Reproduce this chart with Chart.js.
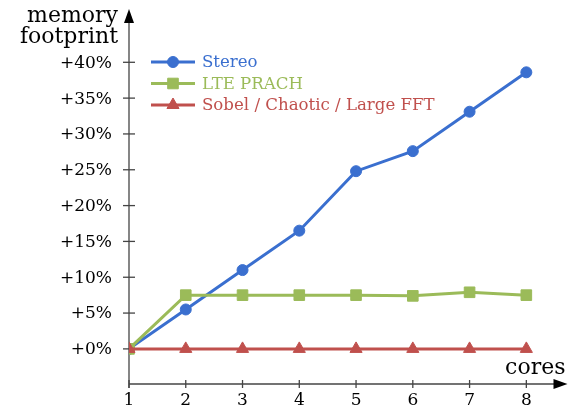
<!DOCTYPE html>
<html>
<head>
<meta charset="utf-8">
<script src="https://cdn.jsdelivr.net/npm/chart.js@4"></script>
<style>
  html, body { margin: 0; padding: 0; background: #fff; }
  #wrap { width: 574px; height: 414px; }
</style>
</head>
<body>
<div id="wrap"><canvas id="memChart" width="574" height="414"></canvas></div>
<script>
// cores on the x axis
const cores = [1, 2, 3, 4, 5, 6, 7, 8];
// memory footprint increase in %
const stereo = [0, 5.5, 11.0, 16.5, 24.8, 27.6, 33.1, 38.6];
const ltePrach = [0, 7.5, 7.5, 7.5, 7.5, 7.4, 7.9, 7.5];
const sobel = [0, 0, 0, 0, 0, 0, 0, 0];
// y tick labels
const yTicks = [0, 5, 10, 15, 20, 25, 30, 35, 40];

const FONT = '"DejaVu Serif", "Liberation Serif", serif';
const seriesNames = ['Stereo', 'LTE PRACH', 'Sobel / Chaotic / Large FFT'];
const colors = ['#3a6fcf', '#9bbb59', '#c0504d'];
const markers = ['circle', 'rect', 'triangle'];
const radii = [5.5, 7.5, 7];

function toPoints(arr) {
  return cores.map((c, i) => ({ x: c, y: arr[i] }));
}

// draws the axes with arrows, ticks, labels and the legend
const axesPlugin = {
  id: 'axesPlugin',
  beforeDatasetsDraw(chart) {
    const ctx = chart.ctx;
    const xs = chart.scales.x;
    const ys = chart.scales.y;
    const x0 = xs.getPixelForValue(1);
    const yBottom = chart.chartArea.bottom;
    const xRight = chart.chartArea.right;
    const yTop = chart.chartArea.top;

    ctx.save();
    ctx.strokeStyle = '#444';
    ctx.fillStyle = '#000';
    ctx.lineWidth = 1.3;
    // y axis
    ctx.beginPath();
    ctx.moveTo(x0, yBottom + 4);
    ctx.lineTo(x0, yTop + 6);
    ctx.stroke();
    // x axis
    ctx.beginPath();
    ctx.moveTo(x0, yBottom);
    ctx.lineTo(xRight - 6, yBottom);
    ctx.stroke();
    // arrows
    ctx.beginPath();
    ctx.moveTo(x0, yTop - 6);
    ctx.lineTo(x0 - 5, yTop + 8);
    ctx.lineTo(x0 + 5, yTop + 8);
    ctx.closePath();
    ctx.fill();
    ctx.beginPath();
    ctx.moveTo(xRight + 2, yBottom);
    ctx.lineTo(xRight - 12, yBottom - 5);
    ctx.lineTo(xRight - 12, yBottom + 5);
    ctx.closePath();
    ctx.fill();

    // y ticks
    ctx.font = '17px ' + FONT;
    ctx.textAlign = 'right';
    ctx.textBaseline = 'middle';
    for (const t of yTicks) {
      const py = ys.getPixelForValue(t);
      ctx.beginPath();
      ctx.moveTo(x0 - 6, py);
      ctx.lineTo(x0 + 6, py);
      ctx.stroke();
      ctx.fillText('+' + t + '%', x0 - 17, py + 1);
    }
    // x ticks
    ctx.textAlign = 'center';
    ctx.textBaseline = 'middle';
    for (const c of cores) {
      const px = xs.getPixelForValue(c);
      ctx.beginPath();
      ctx.moveTo(px, yBottom - 4);
      ctx.lineTo(px, yBottom + 4);
      ctx.stroke();
      ctx.fillText(String(c), px, yBottom + 17);
    }

    // axis titles
    ctx.font = '22px ' + FONT;
    ctx.textAlign = 'right';
    ctx.textBaseline = 'middle';
    ctx.fillText('memory', x0 - 11, 16);
    ctx.fillText('footprint', x0 - 11, 37);
    ctx.fillText('cores', xRight, yBottom - 16);

    // legend
    ctx.font = '16.6px ' + FONT;
    ctx.textAlign = 'left';
    for (let i = 0; i < seriesNames.length; i++) {
      const ly = 62 + i * 21.5;
      ctx.strokeStyle = colors[i];
      ctx.fillStyle = colors[i];
      ctx.lineWidth = 3;
      ctx.beginPath();
      ctx.moveTo(151, ly);
      ctx.lineTo(195, ly);
      ctx.stroke();
      ctx.lineWidth = 1;
      Chart.helpers.drawPoint(ctx, { pointStyle: markers[i], radius: radii[i], rotation: 0, borderWidth: 1 }, 173, ly);
      ctx.fillText(seriesNames[i], 202, ly + 1);
    }
    ctx.restore();
  }
};

function makeDataset(i, arr, order) {
  return {
    label: seriesNames[i],
    data: toPoints(arr),
    borderColor: colors[i],
    backgroundColor: colors[i],
    borderWidth: 3,
    pointStyle: markers[i],
    pointRadius: radii[i],
    pointBorderWidth: 1,
    tension: 0,
    fill: false,
    order: order
  };
}

const chart = new Chart(document.getElementById('memChart'), {
  type: 'line',
  data: {
    // red on top, then green, then blue
    datasets: [makeDataset(0, stereo, 2), makeDataset(1, ltePrach, 1), makeDataset(2, sobel, 0)]
  },
  options: {
    responsive: false,
    animation: false,
    layout: { padding: { left: 129, right: 2, top: 15, bottom: 30 } },
    scales: {
      x: { type: 'linear', min: 1, max: 8.69, display: false },
      y: { min: -4.9, max: 46.6, display: false }
    },
    plugins: {
      legend: { display: false },
      tooltip: { enabled: false }
    }
  },
  plugins: [axesPlugin]
});
</script>
</body>
</html>
